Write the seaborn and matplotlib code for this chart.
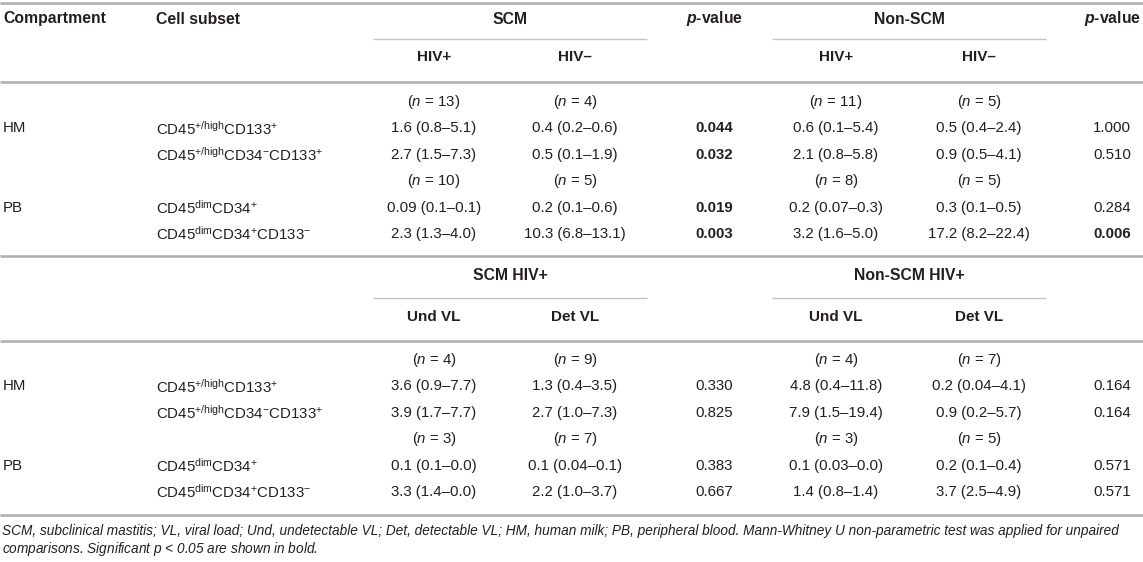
import numpy as np
import matplotlib
matplotlib.use("Agg")
import matplotlib.pyplot as plt
import seaborn as sns

# ---- table content ----
compartments = ["HM", "PB"]
cell_subsets = [
    r"CD45$^{\mathregular{+/high}}$CD133$^{\mathregular{+}}$",
    r"CD45$^{\mathregular{+/high}}$CD34$^{\mathregular{-}}$CD133$^{\mathregular{+}}$",
    r"CD45$^{\mathregular{dim}}$CD34$^{\mathregular{+}}$",
    r"CD45$^{\mathregular{dim}}$CD34$^{\mathregular{+}}$CD133$^{\mathregular{-}}$",
]
top_groups = ["SCM", "Non-SCM"]
top_sub = ["HIV+", "HIV–"]
vl_groups = ["SCM HIV+", "Non-SCM HIV+"]
vl_sub = ["Und VL", "Det VL"]

top_n = [[13, 4, 11, 5], [10, 5, 8, 5]]
top_vals = [
    ["1.6 (0.8–5.1)", "0.4 (0.2–0.6)", "0.6 (0.1–5.4)", "0.5 (0.4–2.4)"],
    ["2.7 (1.5–7.3)", "0.5 (0.1–1.9)", "2.1 (0.8–5.8)", "0.9 (0.5–4.1)"],
    ["0.09 (0.1–0.1)", "0.2 (0.1–0.6)", "0.2 (0.07–0.3)", "0.3 (0.1–0.5)"],
    ["2.3 (1.3–4.0)", "10.3 (6.8–13.1)", "3.2 (1.6–5.0)", "17.2 (8.2–22.4)"],
]
top_p = [[0.044, 1.000], [0.032, 0.510], [0.019, 0.284], [0.003, 0.006]]

vl_n = [[4, 9, 4, 7], [3, 7, 3, 5]]
vl_vals = [
    ["3.6 (0.9–7.7)", "1.3 (0.4–3.5)", "4.8 (0.4–11.8)", "0.2 (0.04–4.1)"],
    ["3.9 (1.7–7.7)", "2.7 (1.0–7.3)", "7.9 (1.5–19.4)", "0.9 (0.2–5.7)"],
    ["0.1 (0.1–0.0)", "0.1 (0.04–0.1)", "0.1 (0.03–0.0)", "0.2 (0.1–0.4)"],
    ["3.3 (1.4–0.0)", "2.2 (1.0–3.7)", "1.4 (0.8–1.4)", "3.7 (2.5–4.9)"],
]
vl_p = [[0.330, 0.164], [0.825, 0.164], [0.383, 0.571], [0.667, 0.571]]

footnote = [
    "SCM, subclinical mastitis; VL, viral load; Und, undetectable VL; Det, detectable VL; HM, human milk; "
    "PB, peripheral blood. Mann-Whitney U non-parametric test was applied for unpaired",
    r"comparisons. Significant $p$ < 0.05 are shown in bold.",
]

# ---- layout (pixel coords) ----
W, H = 1143, 562
X_COMP, X_CELL = 3, 156
X_VAL = [434, 575, 836, 979]
X_P = [714, 1112]
RULE_SPANS = [(373, 647), (772, 1046)]
TXT = "#231f20"
RULE = "#b0b0b0"

sns.set_theme(style="white")
plt.rcParams["font.family"] = ["Liberation Sans", "DejaVu Sans"]
plt.rcParams["mathtext.fontset"] = "custom"
plt.rcParams["mathtext.rm"] = "Liberation Sans"
plt.rcParams["mathtext.it"] = "Liberation Sans:italic"
plt.rcParams["mathtext.bf"] = "Liberation Sans:bold"
plt.rcParams["mathtext.bfit"] = "Liberation Sans:italic:bold"

fig = plt.figure(figsize=(W / 100, H / 100), dpi=100)
ax = fig.add_axes([0, 0, 1, 1])
ax.set_xlim(0, W)
ax.set_ylim(H, 0)
ax.axis("off")

FS = 10.8
FS_HEAD = 11.3


def txt(x, y, s, ha="center", bold=False, fs=None):
    if fs is None:
        fs = FS_HEAD if bold else FS
    ax.text(x, y, s, ha=ha, va="center", fontsize=fs,
            fontweight="bold" if bold else "normal", color=TXT)


def hrule(y, x0=0, x1=W, lw=1.9, color=RULE):
    ax.hlines(y, x0, x1, color=color, lw=lw)


def block(y_head1, y_head2, y_rule, groups, subs, n_rows, vals, pvals, y0, first=False):
    if first:
        txt(X_COMP, y_head1, "Compartment", ha="left", bold=True)
        txt(X_CELL, y_head1, "Cell subset", ha="left", bold=True)
        for xp in X_P:
            txt(xp, y_head1, r"$\mathbfit{p}$-value", bold=True)
    for g, (a, b) in zip(groups, RULE_SPANS):
        txt((a + b) / 2, y_head1, g, bold=True)
        hrule((y_head1 + y_head2) / 2 + 1, a, b, lw=1.0, color="#c4c4c4")
    for i, xv in enumerate(X_VAL):
        txt(xv, y_head2, subs[i % 2], bold=True, fs=FS_HEAD - 0.3)
    hrule(y_rule)
    step = 26.4
    r = 0
    for c, comp in enumerate(compartments):
        yn = y0 + c * 3 * step
        for j, xv in enumerate(X_VAL):
            txt(xv, yn, "($n$ = %d)" % n_rows[c][j])
        txt(X_COMP, yn + step, comp, ha="left")
        for k in range(2):
            yr = yn + (k + 1) * step
            txt(X_CELL, yr, cell_subsets[r], ha="left")
            for j, xv in enumerate(X_VAL):
                txt(xv, yr, vals[r][j])
            for j, xp in enumerate(X_P):
                pv = pvals[r][j]
                txt(xp, yr, f"{pv:.3f}", bold=pv < 0.05, fs=FS)
            r += 1


hrule(3)
block(19, 57, 82, top_groups, top_sub, top_n, top_vals, top_p, 102, first=True)
hrule(256)
block(276, 317, 341, vl_groups, vl_sub, vl_n, vl_vals, vl_p, 360)
hrule(515)

for i, line in enumerate(footnote):
    ax.text(2, 531 + i * 18, line, ha="left", va="center", fontsize=9.85,
            style="italic", color=TXT)

fig.savefig("out.png", dpi=100)
